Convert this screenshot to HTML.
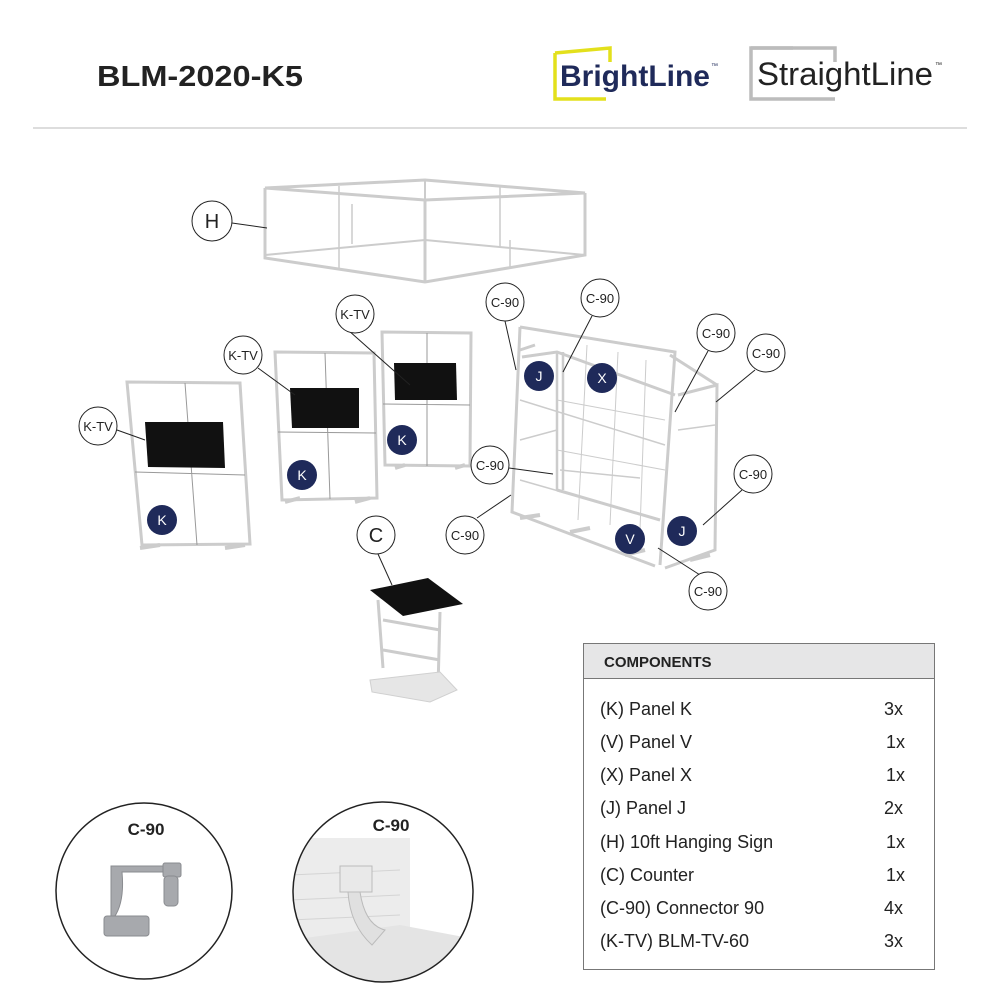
<!DOCTYPE html>
<html><head><meta charset="utf-8"><style>
body{margin:0;background:#fff;width:1000px;height:1000px;overflow:hidden;font-family:"Liberation Sans",sans-serif}
svg{display:block}
</style></head><body>
<svg width="1000" height="1000" viewBox="0 0 1000 1000" xmlns="http://www.w3.org/2000/svg" font-family="Liberation Sans, sans-serif">
<rect width="1000" height="1000" fill="#fff"/>
<text x="97" y="86" font-size="29" font-weight="bold" fill="#222" textLength="206" lengthAdjust="spacingAndGlyphs">BLM-2020-K5</text>
<!-- BrightLine logo -->
<path d="M555 53 L555 99 L606 99" fill="none" stroke="#e3e01c" stroke-width="3.5"/>
<path d="M555 53 L610 48 L610 62" fill="none" stroke="#e3e01c" stroke-width="3.5"/>
<text x="560" y="86" font-size="30" font-weight="bold" fill="#1f2a5a" textLength="150" lengthAdjust="spacingAndGlyphs">BrightLine</text>
<text x="711" y="68" font-size="7" fill="#1f2a5a">™</text>
<!-- StraightLine logo -->
<path d="M793 48 L751 48 L751 99 L835 99" fill="none" stroke="#bcbcbc" stroke-width="3.5"/>
<path d="M751 48 L835 48 L835 62" fill="none" stroke="#bcbcbc" stroke-width="3.5"/>
<text x="757" y="85" font-size="32" fill="#222" textLength="176" lengthAdjust="spacingAndGlyphs">StraightLine</text>
<text x="935" y="67" font-size="7" fill="#222">™</text>
<line x1="33" y1="128" x2="967" y2="128" stroke="#bbb" stroke-width="1"/>

<g fill="none" stroke="#ccc" stroke-width="3">
<!-- H sign -->
<path d="M265 188 L425 180 L585 193 L425 200 Z"/>
<path d="M265 188 L265 258 L425 282 L585 255 L585 193"/>
<path d="M425 200 L425 282"/>
<path d="M265 255 L425 240 L585 255" stroke-width="2"/>
<path d="M425 180 L425 240" stroke-width="2"/>
<path d="M339 186 L339 268 M352 204 L352 244 M500 186 L500 247 M510 240 L510 268" stroke-width="1.5"/>
<!-- Panel 1 -->
<path d="M127 382 L240 383 L250 544 L142 545 Z"/>
<path d="M185 383 L197 545 M135 472 L245 475" stroke="#999" stroke-width="1"/>
<!-- Panel 2 -->
<path d="M275 352 L374 353 L377 498 L282 500 Z"/>
<path d="M325 353 L330 499 M278 432 L376 433" stroke="#999" stroke-width="1"/>
<!-- Panel 3 -->
<path d="M382 332 L471 333 L470 466 L385 465 Z"/>
<path d="M427 333 L427 466 M383 404 L470 405" stroke="#999" stroke-width="1"/>
<!-- Big structure -->
<path d="M520 327 L675 352 L660 565 M520 327 L512 512 L655 566"/>
<path d="M557 352 L557 490 M563 352 L563 490" stroke-width="2.5"/>
<path d="M522 357 L557 352 L675 395 M557 490 L660 520"/>
<path d="M678 395 L717 385 L715 550 L665 568 M670 355 L717 385"/>
<path d="M535 345 L520 350" />
<path d="M520 400 L665 445 M520 440 L557 430 M520 480 L660 520 M560 470 L640 478 M678 430 L715 425" stroke="#ccc" stroke-width="1.5"/>
<path d="M587 345 L578 520 M618 352 L610 525 M646 360 L640 530" stroke="#ccc" stroke-width="1"/>
<path d="M557 400 L665 420 M557 450 L665 470" stroke="#ccc" stroke-width="1"/>
<!-- feet -->
<path d="M140 548 L160 545 M225 548 L245 545 M285 502 L300 498 M355 502 L370 498 M395 468 L405 465 M455 468 L465 465 M520 518 L540 515 M570 532 L590 528 M625 555 L645 550 M690 560 L710 555" stroke-width="4"/>
<!-- counter -->
<path d="M378 600 L383 668 M440 612 L438 688 M383 620 L440 630 M383 650 L440 660" stroke-width="3"/>
</g>
<!-- counter -->
<path d="M370 680 L440 672 L457 690 L430 702 L372 692 Z" fill="#e6e6e6" stroke="#d0d0d0"/>
<path d="M370 590 L428 578 L463 604 L403 616 Z" fill="#111"/>
<!-- TVs -->
<path d="M145 422 L223 422 L225 468 L148 467 Z" fill="#111"/>
<path d="M290 388 L359 388 L359 428 L292 428 Z" fill="#111"/>
<path d="M394 363 L456 363 L457 400 L395 400 Z" fill="#111"/>

<!-- leaders -->
<g stroke="#222" stroke-width="1" fill="none">
<path d="M232 223 L267 228 M348 330 L410 385 M258 368 L295 395 M117 430 L145 440"/>
<path d="M378 554 L392 585"/>
<path d="M505 321 L516 370 M592 316 L563 372 M708 351 L675 412 M755 370 L716 402 M509 468 L553 474 M477 518 L511 495 M742 490 L703 525 M700 575 L658 548"/>
</g>
<g fill="#fff" stroke="#222" stroke-width="1">
<circle cx="212" cy="221" r="20"/><circle cx="355" cy="314" r="19"/><circle cx="243" cy="355" r="19"/><circle cx="98" cy="426" r="19"/><circle cx="376" cy="535" r="19"/>
<circle cx="505" cy="302" r="19"/><circle cx="600" cy="298" r="19"/><circle cx="716" cy="333" r="19"/><circle cx="766" cy="353" r="19"/><circle cx="490" cy="465" r="19"/><circle cx="465" cy="535" r="19"/><circle cx="753" cy="474" r="19"/><circle cx="708" cy="591" r="19"/>
</g>
<g font-size="13" fill="#222" text-anchor="middle">
<text x="212" y="228" font-size="20">H</text><text x="376" y="542" font-size="20">C</text>
<text x="355" y="319">K-TV</text><text x="243" y="360">K-TV</text><text x="98" y="431">K-TV</text>
<text x="505" y="307">C-90</text><text x="600" y="303">C-90</text><text x="716" y="338">C-90</text><text x="766" y="358">C-90</text><text x="490" y="470">C-90</text><text x="465" y="540">C-90</text><text x="753" y="479">C-90</text><text x="708" y="596">C-90</text>
</g>
<g fill="#1f2a5a">
<circle cx="402" cy="440" r="15"/><circle cx="302" cy="475" r="15"/><circle cx="162" cy="520" r="15"/><circle cx="539" cy="376" r="15"/><circle cx="682" cy="531" r="15"/><circle cx="602" cy="378" r="15"/><circle cx="630" cy="539" r="15"/>
</g>
<g font-size="14" fill="#fff" text-anchor="middle">
<text x="402" y="445">K</text><text x="302" y="480">K</text><text x="162" y="525">K</text><text x="539" y="381">J</text><text x="682" y="536">J</text><text x="602" y="383">X</text><text x="630" y="544">V</text>
</g>

<!-- components table -->
<rect x="583.5" y="643.5" width="351" height="326" fill="#fff" stroke="#777"/>
<rect x="583.5" y="643.5" width="351" height="35" fill="#e6e6e7" stroke="#777"/>
<text x="604" y="667" font-size="15" font-weight="bold" fill="#222">COMPONENTS</text>
<g font-size="18" fill="#222">
<text x="600" y="715">(K) Panel K</text><text x="884" y="715">3x</text>
<text x="600" y="748">(V) Panel V</text><text x="886" y="748">1x</text>
<text x="600" y="781">(X) Panel X</text><text x="886" y="781">1x</text>
<text x="600" y="814">(J) Panel J</text><text x="884" y="814">2x</text>
<text x="600" y="848">(H) 10ft Hanging Sign</text><text x="886" y="848">1x</text>
<text x="600" y="881">(C) Counter</text><text x="886" y="881">1x</text>
<text x="600" y="914">(C-90) Connector 90</text><text x="884" y="914">4x</text>
<text x="600" y="947">(K-TV) BLM-TV-60</text><text x="884" y="947">3x</text>
</g>

<!-- detail circles -->
<defs><clipPath id="c2"><circle cx="383" cy="892" r="90"/></clipPath></defs>
<circle cx="144" cy="891" r="88" fill="#fff" stroke="#222" stroke-width="1.5"/>
<text x="146" y="835" font-size="17" font-weight="bold" fill="#222" text-anchor="middle">C-90</text>
<g fill="#a7a9ad" stroke="#8a8c90">
<path d="M111 866 L165 866 L165 872 L122 872 Q125 905 112 920 L111 920 Z"/>
<rect x="163" y="863" width="18" height="14" rx="2"/>
<rect x="164" y="876" width="14" height="30" rx="4"/>
<rect x="104" y="916" width="45" height="20" rx="3"/>
</g>
<g clip-path="url(#c2)">
<rect x="290" y="800" width="190" height="190" fill="#fff"/>
<rect x="290" y="838" width="120" height="102" fill="#ececec"/>
<path d="M290 940 L400 925 L480 940 L480 990 L290 990 Z" fill="#e4e4e4"/>
<path d="M290 875 L400 870 M290 900 L400 895 M290 920 L400 915" stroke="#d4d4d4"/>
<rect x="340" y="866" width="32" height="26" fill="#e9e9e9" stroke="#bbb"/>
<path d="M348 892 L360 892 Q365 925 385 930 L372 945 Q350 925 348 892 Z" fill="#e0e0e0" stroke="#bbb"/>
</g>
<circle cx="383" cy="892" r="90" fill="none" stroke="#222" stroke-width="1.5"/>
<text x="391" y="831" font-size="17" font-weight="bold" fill="#222" text-anchor="middle">C-90</text>
</svg>
</body></html>
